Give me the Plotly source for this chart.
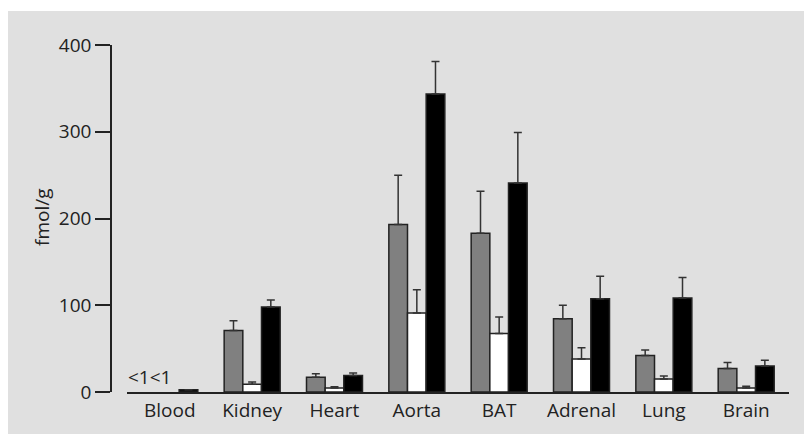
import plotly.graph_objects as go

categories = ["Blood", "Kidney", "Heart", "Aorta", "BAT", "Adrenal", "Lung", "Brain"]
gray_vals = [None, 71, 17, 193, 183, 84.5, 42, 27]
gray_err = [None, 11, 4, 57, 48.5, 15.5, 6.5, 7]
white_vals = [None, 9, 4.5, 91, 67.5, 38, 15, 4.5]
white_err = [None, 2.5, 1.5, 27, 19, 13, 3.5, 2]
black_vals = [2.5, 98, 19, 343.5, 241, 107.5, 108.5, 30]
black_err = [None, 8, 3, 37.5, 58, 26, 23.5, 6.5]
below_detection_label = "<1<1"
y_ticks = [0, 100, 200, 300, 400]
y_title = "fmol/g"

# figure pixels (page is offset by 8px body margin)
W, H = 812, 434
ML, MR, MT, MB = 103, 31, 37, 50
PW = W - ML - MR
PH = H - MT - MB

FONT = "Open Sans"
TXT = "#222222"
EDGE = "#222222"
BG = "#e0e0e0"


def px_x(p):
    return (p - ML) / PW


def px_y(p):
    return (H - MB - p) / PH


fig = go.Figure()

series = [
    (gray_vals, gray_err, "#808080"),
    (white_vals, white_err, "#ffffff"),
    (black_vals, black_err, "#000000"),
]
for vals, errs, col in series:
    fig.add_trace(go.Bar(
        x=categories, y=vals,
        marker=dict(color=col, line=dict(color=EDGE, width=1.5)),
        error_y=dict(type="data", array=errs, arrayminus=[0] * len(errs),
                     symmetric=False, color="#333333", thickness=1.5, width=4),
        showlegend=False,
    ))

# thin white band at the very top
fig.add_shape(type="rect", xref="paper", yref="paper",
              x0=px_x(-5), x1=px_x(W + 5), y0=px_y(3), y1=px_y(-5),
              fillcolor="#ffffff", line=dict(width=0), layer="below")

fig.add_annotation(x=categories[0], y=0, xref="x", yref="y",
                   text=below_detection_label, showarrow=False,
                   xanchor="center", yanchor="bottom", xshift=-20, yshift=0,
                   font=dict(family=FONT, size=19, color=TXT))

fig.add_annotation(x=px_x(34), y=px_y(209), xref="paper", yref="paper",
                   text=y_title, showarrow=False, textangle=-90,
                   xanchor="center", yanchor="middle",
                   font=dict(family=FONT, size=19, color=TXT))

fig.update_layout(
    width=W, height=H,
    margin=dict(l=ML, r=MR, t=MT, b=MB, autoexpand=False),
    paper_bgcolor=BG,
    plot_bgcolor="rgba(0,0,0,0)",
    barmode="group", bargap=0.32, bargroupgap=0,
    font=dict(family=FONT, size=19, color=TXT),
    xaxis=dict(domain=[px_x(119), 1], range=[-0.52, 7.52],
               showline=True, linecolor=EDGE, linewidth=1.5,
               ticks="", showgrid=False, zeroline=False,
               tickfont=dict(family=FONT, size=19, color=TXT)),
    yaxis=dict(anchor="free", position=0, range=[0, 400],
               tickvals=y_ticks, showline=True, linecolor=EDGE, linewidth=1.5,
               ticks="outside", ticklen=15, tickwidth=1.5, tickcolor=EDGE,
               showgrid=False, zeroline=False,
               tickfont=dict(family=FONT, size=19, color=TXT)),
)

fig.write_html("out.html")
